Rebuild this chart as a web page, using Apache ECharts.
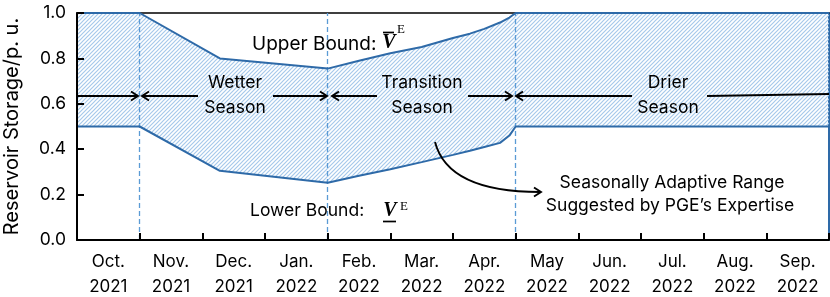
<!DOCTYPE html>
<html><head><meta charset="utf-8">
<script src="https://cdn.jsdelivr.net/npm/echarts@6/dist/echarts.min.js"></script>
<style>html,body{margin:0;padding:0;background:#fff}#c{width:830px;height:297px}</style>
</head><body><div id="c"></div>
<script>
// ---- data ----
const months = ['Oct.','Nov.','Dec.','Jan.','Feb.','Mar.','Apr.','May','Jun.','Jul.','Aug.','Sep.'];
const years  = ['2021','2021','2021','2022','2022','2022','2022','2022','2022','2022','2022','2022'];
// position in months from start of Oct. 2021
const boundX = [0, 1, 2.28, 4, 4.5, 5, 5.5, 6, 6.27, 6.5, 6.75, 6.9, 7, 12];
const upperBound = [1.0, 1.0, 0.80, 0.755, 0.79, 0.823, 0.85, 0.89, 0.909, 0.93, 0.958, 0.98, 1.0, 1.0];
const lowerBound = [0.5, 0.5, 0.305, 0.252, 0.283, 0.312, 0.343, 0.375, 0.393, 0.41, 0.428, 0.46, 0.5, 0.5];
const seasonStarts = [1, 4, 7];
const yMin = 0, yMax = 1, yStep = 0.2;

const FONT = 'Inter';
const LINE = '#2e6aa8';
const HATCH = '#a6c9eb';
const DASH = '#5b9bd5';

// hatch tile (transparent background)
const tile = document.createElement('canvas');
tile.width = 4; tile.height = 4;
(function(){
  const g = tile.getContext('2d');
  g.strokeStyle = HATCH; g.lineWidth = 1.2;
  g.beginPath();
  g.moveTo(0,4); g.lineTo(4,0);
  g.moveTo(-1,1); g.lineTo(1,-1);
  g.moveTo(3,5); g.lineTo(5,3);
  g.stroke();
})();

const categories = months.map((m,i)=>m+'\n'+years[i]);
const upperData = boundX.map((x,i)=>[x, upperBound[i]]);
const lowerData = boundX.map((x,i)=>[x, lowerBound[i]]);

const chart = echarts.init(document.getElementById('c'), null, {renderer:'canvas'});

function chevron(x, y, dir){ // dir 1 => pointing right
  return {type:'polyline', z:20, shape:{points:[[x-dir*7,y-4.5],[x,y],[x-dir*7,y+4.5]]},
    style:{stroke:'#000', lineWidth:1.9, fill:null}};
}
function hline(x1,y1,x2,y2){
  return {type:'line', z:20, shape:{x1,y1,x2,y2}, style:{stroke:'#000', lineWidth:1.9}};
}
function txt(text, x, y, opts){
  return Object.assign({type:'text', z:21, x, y, style:Object.assign({text, font:'17.5px '+FONT, fill:'#000', align:'center', verticalAlign:'middle'}, opts||{})});
}
const AY = 96;
const graphics = [
  hline(78,AY,138,AY), chevron(138,AY,1),
  hline(142,AY,198,AY), chevron(142,AY,-1),
  hline(273,AY,327,AY), chevron(327,AY,1),
  txt('Wetter', 235, 83), txt('Season', 235, 108),
  hline(332,AY,377,AY), chevron(332,AY,-1),
  hline(468,AY,512,AY), chevron(512,AY,1),
  txt('Transition', 422, 83), txt('Season', 422, 108),
  hline(516,AY,632,AY), chevron(516,AY,-1),
  hline(707,AY,829,94),
  txt('Drier', 668, 83), txt('Season', 668, 108),
  // upper bound label
  txt('Upper Bound:', 252, 44, {align:'left', font:'19px '+FONT}),
  txt('V', 389, 43, {font:'bold italic 20px "Liberation Serif"'}),
  {type:'line', z:21, shape:{x1:383,y1:32.5,x2:394,y2:32.5}, style:{stroke:'#000', lineWidth:1.7}},
  txt('E', 401, 30, {font:'13px "Liberation Serif"'}),
  // lower bound label
  txt('Lower Bound:', 250, 211, {align:'left', font:'17.5px '+FONT}),
  txt('V', 390, 211, {font:'bold italic 20px "Liberation Serif"'}),
  {type:'line', z:21, shape:{x1:383,y1:221.5,x2:396,y2:221.5}, style:{stroke:'#000', lineWidth:1.7}},
  txt('E', 404, 207, {font:'13px "Liberation Serif"'}),
  // range label
  txt('Seasonally Adaptive Range', 672, 183),
  txt('Suggested by PGE\u2019s Expertise', 670, 206),
  {type:'bezierCurve', z:20, shape:{x1:435,y1:142,x2:540,y2:192,cpx1:448,cpy1:192}, style:{stroke:'#000', lineWidth:1.9, fill:null}},
  chevron(541,192,1)
];

chart.setOption({
  animation:false,
  backgroundColor:'#fff',
  grid:{left:77, right:1, top:13, bottom:57, containLabel:false, outerBoundsMode:'none'},
  xAxis:[
    {type:'category', data:categories, position:'bottom', boundaryGap:true, z:10,
     axisLine:{lineStyle:{color:'#000', width:2}},
     axisTick:{show:true, inside:true, length:7, interval:0, lineStyle:{color:'#000', width:2}},
     axisLabel:{interval:0, color:'#000', fontFamily:FONT, fontSize:17, lineHeight:25, margin:9},
     splitLine:{show:false}},
    {type:'value', min:0, max:12, position:'top', show:true,
     axisLine:{show:true, onZero:false, lineStyle:{color:'#000', width:1.5}},
     axisTick:{show:false}, axisLabel:{show:false}, splitLine:{show:false}}
  ],
  yAxis:[
    {type:'value', min:yMin, max:yMax, interval:yStep, z:10,
     name:'Reservoir Storage/p. u.', nameLocation:'middle', nameRotate:90, nameGap:55,
     nameTextStyle:{color:'#000', fontFamily:FONT, fontSize:20},
     axisLine:{show:true, lineStyle:{color:'#000', width:2}},
     axisTick:{show:true, inside:true, length:7, lineStyle:{color:'#000', width:2}},
     axisLabel:{color:'#000', fontFamily:FONT, fontSize:17.5, margin:11, formatter:v=>v.toFixed(1)},
     splitLine:{show:false}},
    {type:'value', min:yMin, max:yMax, position:'right', show:true,
     axisLine:{show:true, onZero:false, lineStyle:{color:LINE, width:2}},
     axisTick:{show:false}, axisLabel:{show:false}, splitLine:{show:false}}
  ],
  series:[
    {type:'custom', xAxisIndex:1, yAxisIndex:0, data:[[0,0]], z:1, silent:true,
     renderItem:function(params, api){
       const pts = [];
       for (let i=0;i<boundX.length;i++) pts.push(api.coord([boundX[i], upperBound[i]]));
       for (let i=boundX.length-1;i>=0;i--) pts.push(api.coord([boundX[i], lowerBound[i]]));
       return {type:'polygon', shape:{points:pts}, style:{fill:{image:tile, repeat:'repeat'}, stroke:null}};
     }},
    {type:'line', name:'Upper', xAxisIndex:1, yAxisIndex:0, data:upperData, showSymbol:false, clip:false, z:5,
     lineStyle:{color:LINE, width:2}},
    {type:'line', name:'Lower', xAxisIndex:1, yAxisIndex:0, data:lowerData, showSymbol:false, clip:false, z:5,
     lineStyle:{color:LINE, width:2},
     markLine:{silent:true, symbol:['none','none'], label:{show:false}, z:3,
       lineStyle:{color:DASH, type:[5,3], width:1.3},
       data: seasonStarts.map(x=>({xAxis:x}))}}
  ],
  graphic:graphics
});
</script></body></html>
